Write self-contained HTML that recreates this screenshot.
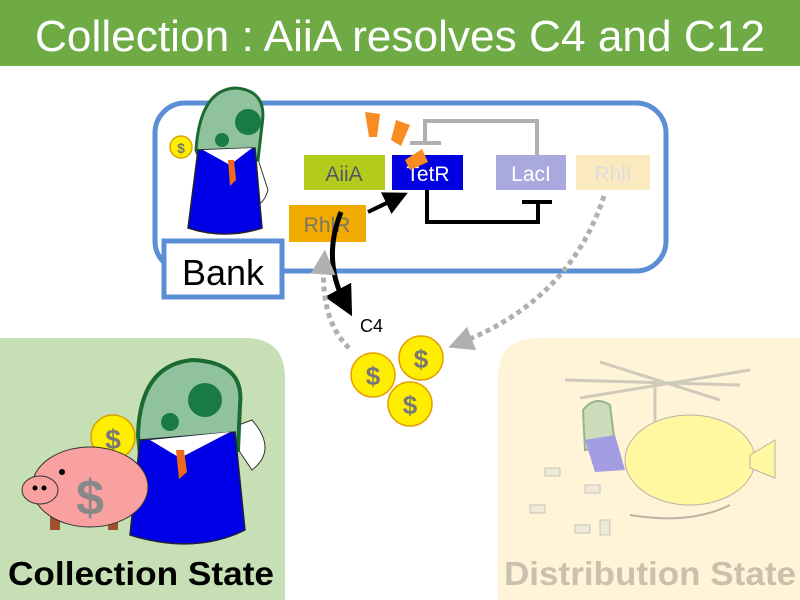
<!DOCTYPE html>
<html><head><meta charset="utf-8"><style>
html,body{margin:0;padding:0;background:#fff;width:800px;height:600px;overflow:hidden}
svg{display:block}
text{font-family:"Liberation Sans",Arial,sans-serif}
</style></head><body>
<svg width="800" height="600" viewBox="0 0 800 600" xmlns="http://www.w3.org/2000/svg">
<defs>
<marker id="ab" markerWidth="6" markerHeight="6" refX="3" refY="3" orient="auto" markerUnits="strokeWidth"><path d="M0,0 L6,3 L0,6 z" fill="#000"/></marker>
<marker id="ag" markerWidth="5" markerHeight="5" refX="2.5" refY="2.5" orient="auto" markerUnits="strokeWidth"><path d="M0,0 L5,2.5 L0,5 z" fill="#b0b0b0"/></marker>
</defs>
<rect x="0" y="0" width="800" height="66" fill="#6fab45"/>
<text x="400" y="51" font-size="44" fill="#fff" text-anchor="middle" textLength="730" lengthAdjust="spacingAndGlyphs">Collection : AiiA resolves C4 and C12</text>

<!-- panels -->
<path d="M0,338 H245 Q285,338 285,378 V600 H0 Z" fill="#c6dfb4"/>
<path d="M538,338 H800 V600 H498 V378 Q498,338 538,338 Z" fill="#fff4d8"/>

<!-- bank box -->
<rect x="155" y="103" width="511" height="168" rx="30" fill="#fff" stroke="#5b8fd5" stroke-width="5"/>

<!-- top banker -->
<path d="M240,205 Q262,212 268,190 L255,150 Z" fill="#fff" stroke="#333"/>
<path d="M196,150 Q200,90 235,88 Q268,90 262,125 L258,160 L200,160 Z" fill="#8fc29d" stroke="#1a6a32" stroke-width="3"/>
<circle cx="248" cy="122" r="13" fill="#1a7a46"/>
<circle cx="222" cy="140" r="7" fill="#1a7a46"/>
<path d="M198,150 L255,148 L262,228 Q225,240 188,228 Z" fill="#0000e6" stroke="#223" stroke-width="1.5"/>
<path d="M203,150 L230,165 L252,148 Z" fill="#fff"/>
<path d="M228,160 L234,160 L236,180 L230,186 Z" fill="#ee6a1a"/>
<circle cx="181" cy="147" r="11" fill="#ffee00" stroke="#d9a200" stroke-width="1.5"/>
<text x="181" y="153" font-size="14" font-weight="bold" fill="#777" text-anchor="middle">$</text>

<!-- bank label -->
<rect x="164" y="241" width="118" height="56" fill="#fff" stroke="#5b8fd5" stroke-width="5"/>
<text x="223" y="285" font-size="36" fill="#000" text-anchor="middle">Bank</text>

<!-- gray repression -->
<path d="M425,142 V121 H537 V155" fill="none" stroke="#b0b0b0" stroke-width="4"/>
<path d="M410,143 H441" stroke="#b0b0b0" stroke-width="4"/>

<!-- genes -->
<rect x="304" y="155" width="81" height="35" fill="#b3cc1a"/>
<text x="344" y="181" font-size="21" fill="#556" text-anchor="middle">AiiA</text>
<rect x="392" y="155" width="71" height="35" fill="#0000e3"/>
<text x="428" y="181" font-size="21" fill="#fff" text-anchor="middle">TetR</text>
<rect x="496" y="155" width="70" height="35" fill="#a9a9df"/>
<text x="531" y="181" font-size="21" fill="#fff" text-anchor="middle">LacI</text>
<rect x="576" y="155" width="74" height="35" fill="#fbe9c0"/>
<text x="613" y="181" font-size="21" fill="#ddd" text-anchor="middle">RhlI</text>
<rect x="289" y="205" width="77" height="37" fill="#f0aa00"/>
<text x="327" y="232" font-size="21" fill="#776" text-anchor="middle">RhlR</text>

<!-- orange burst -->
<path d="M365,112 L380,114 L377,137 L369,137 Z" fill="#f98c21"/>
<path d="M396,120 L410,125 L401,146 L391,140 Z" fill="#f98c21"/>
<path d="M405,160 L422,149 L428,162 L410,170 Z" fill="#f98c21"/>

<!-- black repression -->
<path d="M427,190 V222 H538 V200" fill="none" stroke="#000" stroke-width="4"/>
<path d="M522,202 H552" stroke="#000" stroke-width="4"/>

<!-- arrows -->
<path d="M368,212 L397,198" stroke="#000" stroke-width="4" fill="none" marker-end="url(#ab)"/>
<path d="M341,212 Q322,260 345,303" stroke="#000" stroke-width="5" fill="none" marker-end="url(#ab)"/>
<path d="M349,348 Q320,320 324,262" stroke="#b0b0b0" stroke-width="5" stroke-dasharray="5,4" fill="none" marker-end="url(#ag)"/>
<path d="M604,196 Q570,300 460,343" stroke="#b0b0b0" stroke-width="5" stroke-dasharray="5,4" fill="none" marker-end="url(#ag)"/>
<text x="360" y="332" font-size="18" fill="#000">C4</text>

<!-- coins -->
<g stroke="#e3a000" stroke-width="1.5" fill="#ffee00">
<circle cx="373" cy="375" r="22"/><circle cx="421" cy="358" r="22"/><circle cx="410" cy="404" r="22"/></g>
<g font-size="26" font-weight="bold" fill="#777" text-anchor="middle">
<text x="373" y="385">$</text><text x="421" y="368">$</text><text x="410" y="414">$</text></g>

<!-- bottom banker -->
<path d="M225,430 L252,420 Q278,450 252,470 Z" fill="#fff" stroke="#333"/>
<path d="M138,435 Q140,365 192,360 Q245,362 240,405 L238,450 L140,455 Z" fill="#8fc29d" stroke="#1a6a32" stroke-width="4"/>
<circle cx="205" cy="400" r="17" fill="#1a7a46"/>
<circle cx="170" cy="422" r="9" fill="#1a7a46"/>
<path d="M140,440 L235,432 L245,530 Q195,555 130,535 Z" fill="#0000e6" stroke="#223" stroke-width="1.5"/>
<path d="M150,440 L180,458 L230,432 Z" fill="#fff"/>
<path d="M176,450 L184,450 L187,472 L179,479 Z" fill="#ee6a1a"/>
<circle cx="113" cy="437" r="22" fill="#ffee00" stroke="#d9a200" stroke-width="1.5"/>
<text x="113" y="449" font-size="28" font-weight="bold" fill="#777" text-anchor="middle">$</text>
<!-- piggy -->
<rect x="50" y="510" width="10" height="20" fill="#a0522d"/><rect x="108" y="510" width="10" height="20" fill="#a0522d"/>
<ellipse cx="90" cy="487" rx="58" ry="40" fill="#f9a0a0" stroke="#333"/>
<ellipse cx="40" cy="490" rx="18" ry="14" fill="#f9a0a0" stroke="#333"/>
<circle cx="35" cy="488" r="2.5"/><circle cx="44" cy="488" r="2.5"/><circle cx="62" cy="472" r="3"/>
<text x="90" y="515" font-size="50" font-weight="bold" fill="#888" text-anchor="middle">$</text>
<text x="141" y="585" font-size="33" font-weight="bold" fill="#000" text-anchor="middle" textLength="266" lengthAdjust="spacingAndGlyphs">Collection State</text>

<!-- helicopter faded -->
<g opacity="0.45">
<path d="M565,380 L740,385 M600,362 L720,400 M580,398 L750,370" stroke="#999" stroke-width="3"/>
<path d="M655,383 V425" stroke="#999" stroke-width="3"/>
<ellipse cx="690" cy="460" rx="65" ry="45" fill="#ffff60" stroke="#666"/>
<path d="M750,455 L775,440 L775,478 L750,468 Z" fill="#ffff60" stroke="#666"/>
<path d="M630,515 Q690,525 730,505" stroke="#666" fill="none" stroke-width="2"/>
<path d="M583,410 Q595,395 610,405 L615,445 L585,450 Z" fill="#8fc29d" stroke="#1a6a32" stroke-width="2"/>
<path d="M585,440 L615,435 L625,470 L595,472 Z" fill="#3333ee"/>
<g fill="#ddd" stroke="#888"><rect x="545" y="468" width="15" height="8"/><rect x="585" y="485" width="15" height="8"/><rect x="530" y="505" width="15" height="8"/><rect x="575" y="525" width="15" height="8"/><rect x="600" y="520" width="10" height="15"/></g>
</g>
<text x="650" y="585" font-size="33" font-weight="bold" fill="#c9c0ae" text-anchor="middle" textLength="292" lengthAdjust="spacingAndGlyphs">Distribution State</text>
</svg>
</body></html>
